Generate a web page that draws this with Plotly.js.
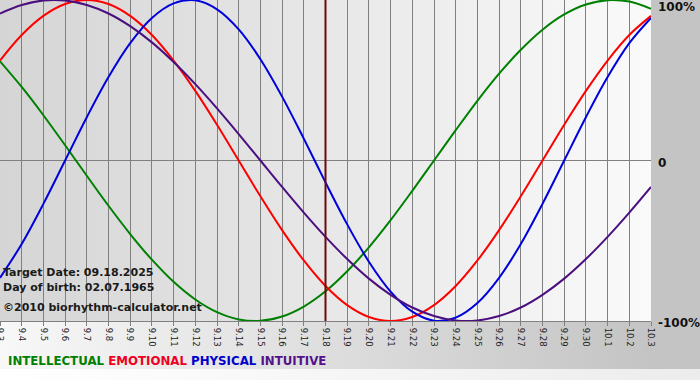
<!DOCTYPE html>
<html><head><meta charset="utf-8">
<script src="https://cdn.plot.ly/plotly-3.0.1.min.js"></script>
<style>html,body{margin:0;padding:0;background:#fff}#chart{width:700px;height:380px}</style>
</head><body><div id="chart"></div>
<script>
// ---- data ----
const dates = ['9.3','9.4','9.5','9.6','9.7','9.8','9.9','9.10','9.11','9.12','9.13','9.14','9.15','9.16','9.17','9.18','9.19','9.20','9.21','9.22','9.23','9.24','9.25','9.26','9.27','9.28','9.29','9.30','10.1','10.2','10.3'];
const intellectual = [61.8,45.8,28.2,9.5,-9.5,-28.2,-45.8,-61.8,-75.6,-86.6,-94.5,-99.0,-99.9,-97.2,-91.0,-81.5,-69.0,-54.1,-37.2,-18.9,0,18.9,37.2,54.1,69.0,81.5,91.0,97.2,99.9,99.0,94.5];
const emotional = [62.3,78.2,90.1,97.5,100,97.5,90.1,78.2,62.3,43.4,22.3,0,-22.3,-43.4,-62.3,-78.2,-90.1,-97.5,-100,-97.5,-90.1,-78.2,-62.3,-43.4,-22.3,0,22.3,43.4,62.3,78.2,90.1];
const physical = [-73.1,-52.0,-27.0,0,27.0,52.0,73.1,88.8,97.9,99.8,94.2,81.7,63.1,39.8,13.6,-13.6,-39.8,-63.1,-81.7,-94.2,-99.8,-97.9,-88.8,-73.1,-52.0,-27.0,0,27.0,52.0,73.1,88.8];
const intuitive = [91.6,96.9,99.7,99.7,96.9,91.6,83.7,73.6,61.4,47.6,32.5,16.5,0,-16.5,-32.5,-47.6,-61.4,-73.6,-83.7,-91.6,-96.9,-99.7,-99.7,-96.9,-91.6,-83.7,-73.6,-61.4,-47.6,-32.5,-16.5];
const seriesNames = ['INTELLECTUAL','EMOTIONAL','PHYSICAL','INTUITIVE'];
const yTickVals = [100, 0, -100];
const yTickText = ['100%', '0', '-100%'];
const targetDay = '9.18';
const infoLines = ['Target Date: 09.18.2025', 'Day of birth: 02.07.1965', '\u00a92010 biorhythm-calculator.net'];

// ---- styling ----
const colors = ['#008000', '#ff0000', '#0000dd', '#4b0f80'];
const legendColors = ['#008000', '#ee0022', '#0000cc', '#55118a'];
const W = 700, H = 380, ML = 0, MR = 49, MT = 0, MB = 59;
const PW = W - ML - MR, PH = H - MT - MB;
const px = x => (x - ML) / PW;
const py = y => (PH + MT - y) / PH;

const values = [intellectual, emotional, physical, intuitive];
const traces = values.map((v, i) => ({
  type: 'scatter', mode: 'lines', x: dates, y: v, name: seriesNames[i],
  line: {color: colors[i], width: 2, shape: 'spline', smoothing: 1},
  hoverinfo: 'skip'
}));

function svgUri(s) { return 'data:image/svg+xml;charset=utf-8,' + encodeURIComponent(s); }
const figBg = svgUri(`<svg xmlns="http://www.w3.org/2000/svg" width="${W}" height="${H}" viewBox="0 0 ${W} ${H}" preserveAspectRatio="none"><defs><linearGradient id="g" x1="0" y1="0" x2="1" y2="0"><stop offset="0" stop-color="#f8f8f8"/><stop offset="0.93" stop-color="#c4c4c4"/><stop offset="1" stop-color="#c4c4c4"/></linearGradient><linearGradient id="b" x1="0" y1="0" x2="1" y2="0"><stop offset="0" stop-color="#ffffff"/><stop offset="1" stop-color="#ececec"/></linearGradient></defs><rect x="0" y="0" width="${W}" height="${H}" fill="url(#g)"/><rect x="0" y="369" width="${W}" height="11" fill="url(#b)"/></svg>`);
const plotBg = svgUri(`<svg xmlns="http://www.w3.org/2000/svg" width="${PW}" height="${PH}" viewBox="0 0 ${PW} ${PH}" preserveAspectRatio="none"><defs><linearGradient id="p" x1="0" y1="0" x2="1" y2="0"><stop offset="0" stop-color="#d5d5d5"/><stop offset="1" stop-color="#fafafa"/></linearGradient></defs><rect x="0" y="0" width="${PW}" height="${PH}" fill="url(#p)"/></svg>`);

const annotations = [];
yTickVals.forEach((v, i) => {
  annotations.push({
    xref: 'paper', yref: 'y', x: px(656), y: v, xanchor: 'left',
    yanchor: i === 0 ? 'top' : 'middle', yshift: i === 0 ? 2 : -2,
    text: yTickText[i], showarrow: false,
    font: {family: 'DejaVu Sans', size: 12, color: '#111', weight: 'bold'}
  });
});
const infoY = [272, 287, 307];
infoLines.forEach((t, i) => {
  annotations.push({
    xref: 'paper', yref: 'paper', x: px(1), y: py(infoY[i]), xanchor: 'left', yanchor: 'middle',
    text: t, showarrow: false,
    font: {family: 'DejaVu Sans', size: 11, color: '#1a1a1a', weight: 'bold'}
  });
});
annotations.push({
  xref: 'paper', yref: 'paper', x: px(6), y: py(361), xanchor: 'left', yanchor: 'middle',
  text: seriesNames.map((n, i) => `<span style="color:${legendColors[i]}">${n}</span>`).join(' '),
  showarrow: false,
  font: {family: 'DejaVu Sans', size: 11.8, weight: 'bold'}
});

const targetIdx = dates.indexOf(targetDay);

const layout = {
  width: W, height: H,
  margin: {l: ML, r: MR, t: MT, b: MB, pad: 0},
  paper_bgcolor: '#ffffff', plot_bgcolor: 'rgba(0,0,0,0)',
  showlegend: false,
  xaxis: {
    type: 'category', range: [0, dates.length - 1], tickmode: 'array', tickvals: dates, ticktext: dates,
    tickangle: 90, showgrid: true, gridcolor: '#808080', gridwidth: 1,
    showline: true, mirror: true, linecolor: '#808080', linewidth: 1,
    ticks: 'outside', ticklen: 4, tickcolor: '#808080', tickwidth: 1,
    tickfont: {family: 'DejaVu Sans', size: 8.5, color: '#222'}, zeroline: false, fixedrange: true
  },
  yaxis: {
    range: [-100, 100], tickmode: 'array', tickvals: [0], showticklabels: false,
    showgrid: true, gridcolor: '#808080', gridwidth: 1, zeroline: false, fixedrange: true
  },
  images: [
    {source: figBg, xref: 'paper', yref: 'paper', x: px(0), y: py(0), sizex: W / PW, sizey: H / PH, sizing: 'stretch', layer: 'below', xanchor: 'left', yanchor: 'top'},
    {source: plotBg, xref: 'paper', yref: 'paper', x: 0, y: 1, sizex: 1, sizey: 1, sizing: 'stretch', layer: 'below', xanchor: 'left', yanchor: 'top'}
  ],
  shapes: [{
    type: 'line', xref: 'x', yref: 'paper', x0: targetIdx, x1: targetIdx, y0: 0, y1: 1,
    line: {color: '#6a0a0a', width: 2}, layer: 'above'
  }],
  annotations: annotations
};

Plotly.newPlot('chart', traces, layout, {staticPlot: true, displayModeBar: false});
</script>
</body></html>
